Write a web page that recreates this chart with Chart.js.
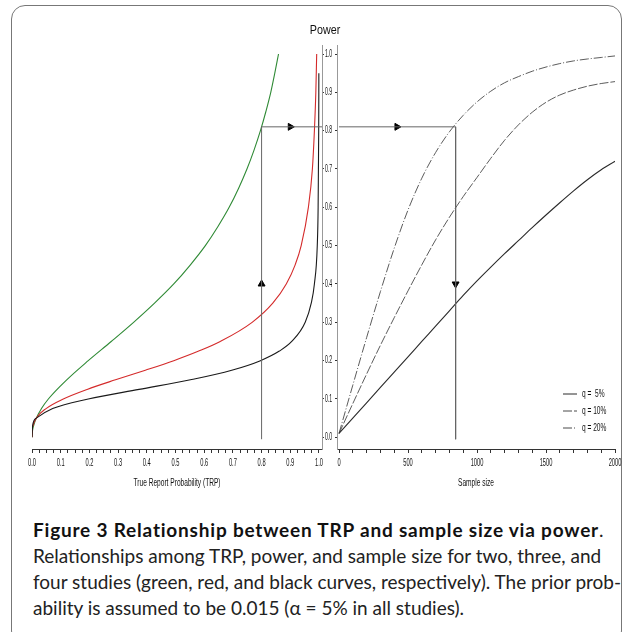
<!DOCTYPE html>
<html><head><meta charset="utf-8">
<script src="https://cdn.jsdelivr.net/npm/chart.js@4.4.1/dist/chart.umd.min.js"></script>
<style>
html,body{margin:0;padding:0;background:#fff;width:634px;height:632px;overflow:hidden;}
#frame{position:absolute;left:11px;top:5px;width:611px;height:640px;border:1px solid #777;border-radius:14px;box-sizing:border-box;}
canvas{position:absolute;left:0;top:0;}
#power{position:absolute;left:295px;width:60px;top:23px;text-align:center;font:12.5px 'Liberation Sans',Arial,sans-serif;color:#111;transform:scaleX(0.86);}
#caption{position:absolute;left:33px;top:517px;font-family:Lato,'Noto Sans',sans-serif;font-size:19px;line-height:26px;color:#222;white-space:nowrap;}
#caption b{font-weight:700;color:#111;letter-spacing:0.8px;}
</style>
</head><body>
<div id="frame"></div>
<canvas id="left" width="634" height="500"></canvas>
<canvas id="right" width="634" height="500"></canvas>
<div id="power">Power</div>
<div id="caption">
<div><b>Figure 3 Relationship between TRP and sample size via power</b>.</div>
<div>Relationships among TRP, power, and sample size for two, three, and</div>
<div>four studies (green, red, and black curves, respectively). The prior prob-</div>
<div>ability is assumed to be 0.015 (α = 5% in all studies).</div>
</div>
<script>
// ---------- data ----------
// Left panel: TRP (x) vs power (y) for two, three and four studies
const greenPower = [0,0.01,0.02,0.03,0.05,0.075,0.1,0.15,0.2,0.25,0.3,0.35,0.4,0.45,0.5,0.55,0.6,0.65,0.7,0.75,0.8,0.85,0.9,0.95,1.0];
const greenTRP   = [0,0.0006,0.0024,0.0055,0.015,0.033,0.057,0.121,0.196,0.276,0.354,0.427,0.494,0.552,0.604,0.648,0.687,0.720,0.749,0.774,0.796,0.815,0.832,0.846,0.859];
const redPower = [0,0.02,0.03,0.05,0.075,0.1,0.125,0.15,0.175,0.2,0.225,0.25,0.3,0.35,0.4,0.45,0.5,0.6,0.7,0.8,0.9,1.0];
const redTRP   = [0,0.001,0.0033,0.015,0.049,0.109,0.192,0.291,0.395,0.494,0.581,0.656,0.767,0.839,0.886,0.917,0.938,0.963,0.977,0.984,0.989,0.992];
const blackPower = [0,0.03,0.05,0.075,0.1,0.125,0.15,0.175,0.2,0.225,0.25,0.3,0.35,0.4,0.5,0.6,0.7,0.8,0.9,0.95];
const blackTRP   = [0,0.002,0.015,0.072,0.196,0.373,0.552,0.696,0.796,0.862,0.905,0.952,0.973,0.984,0.994,0.997,0.998,0.999,0.9994,0.9995];

// Right panel: power vs sample size for q = 5%, 10%, 20%
const sampleSizes = [0,100,200,300,400,500,600,700,800,900,1000,1100,1200,1300,1400,1500,1600,1700,1800,1900,2000];
const powerQ5  = [0.01,0.05,0.09,0.13,0.17,0.21,0.25,0.29,0.33,0.37,0.408,0.444,0.479,0.513,0.547,0.580,0.612,0.643,0.672,0.698,0.72];
const powerQ10 = [0.01,0.088,0.165,0.24,0.312,0.382,0.45,0.515,0.574,0.628,0.678,0.728,0.775,0.815,0.848,0.874,0.893,0.906,0.916,0.923,0.928];
const powerQ20 = [0.01,0.136,0.26,0.38,0.493,0.593,0.676,0.743,0.797,0.84,0.875,0.903,0.925,0.941,0.955,0.966,0.975,0.982,0.987,0.991,0.995];
const seriesLabels = ['q =  5%','q = 10%','q = 20%'];

// Worked example (guide lines and arrows)
const guideTRP = 0.8;
const guidePower = 0.81;
const guideN = 845;
const arrowUpPower = 0.40;
const arrowRightTRP = 0.9;
const arrowRightN = 420;
const arrowDownPower = 0.40;

// Ticks
const trpTicks = [0,0.1,0.2,0.3,0.4,0.5,0.6,0.7,0.8,0.9,1.0];
const trpTickLabels = ['0.0','0.1','0.2','0.3','0.4','0.5','0.6','0.7','0.8','0.9','1.0'];
const trpMinorStep = 0.025;
const powerTicks = [0,0.1,0.2,0.3,0.4,0.5,0.6,0.7,0.8,0.9,1.0];
const powerTickLabels = ['0.0','0.1','0.2','0.3','0.4','0.5','0.6','0.7','0.8','0.9','1.0'];
const nTicks = [0,500,1000,1500,2000];
const nTickLabels = ['0','500','1000','1500','2000'];
const nMinorStep = 100;

// ---------- fonts: narrow look via horizontal text scaling ----------
const FAMILY = "'Liberation Sans', Arial, sans-serif";
const TEXT_SX = 0.6, NUM_SX = 0.52;
function condenseText(canvas){
  const ctx = canvas.getContext('2d');
  const orig = ctx.fillText;
  ctx.fillText = function(text, x, y, maxWidth){
    const sx = /^[0-9.]+$/.test(String(text)) ? NUM_SX : TEXT_SX;
    this.save(); this.translate(x, y); this.scale(sx, 1);
    if (maxWidth === undefined) orig.call(this, text, 0, 0); else orig.call(this, text, 0, 0, maxWidth / sx);
    this.restore();
  };
}
const fnt = (size) => ({family:FAMILY, size});

// ---------- drawing ----------
const W = 634, H = 500;
const AXIS_BOTTOM = 449, AREA_TOP = 45, XAXIS_H = 41;
const Y_MIN = -0.0305, Y_MAX = 1.0235;
const pts = (xs, ys) => xs.map((x,i)=>({x, y: ys[i]}));
const tickRange = (a,b,step) => { const r=[]; const n=Math.round((b-a)/step); for(let i=0;i<=n;i++) r.push(+(a+i*step).toFixed(6)); return r; };
const labelFor = (vals, labels) => (v) => { const i = vals.findIndex(t=>Math.abs(t-v)<1e-9); return i>=0 ? labels[i] : ''; };
const axisColor = '#333';

function curve(data, color, dash, width){
  return {data, showLine:true, borderColor:color, borderWidth:width||1.1, borderDash:dash||[], pointRadius:0, cubicInterpolationMode:'monotone', fill:false};
}
function guide(data){
  return {data, showLine:true, borderColor:'#666', borderWidth:1, pointRadius:0, tension:0};
}
function arrow(pt, rot){
  return {data:[pt], showLine:false, pointStyle:'triangle', rotation:rot, pointRadius:4, backgroundColor:'#000', borderColor:'#000', borderWidth:1};
}

const leftCanvas = document.getElementById('left');
const rightCanvas = document.getElementById('right');
condenseText(leftCanvas);
condenseText(rightCanvas);

// Left chart
const LEFT_RIGHT_EDGE = 322, CENTER_W = 15;
const LX_MAX = 1.0105;
new Chart(leftCanvas, {
  type:'scatter',
  data:{datasets:[
    guide([{x:guideTRP,y:-0.005},{x:guideTRP,y:guidePower},{x:LX_MAX,y:guidePower}]),
    arrow({x:guideTRP,y:arrowUpPower},0),
    arrow({x:arrowRightTRP,y:guidePower},90),
    curve(pts(blackTRP,blackPower),'#1a1a1a'),
    curve(pts(redTRP,redPower),'#d42a2a'),
    curve(pts(greenTRP,greenPower),'#2f8a35'),
  ]},
  options:{
    responsive:false, animation:false, devicePixelRatio:1,
    layout:{padding:{left:32, top:AREA_TOP, right:W-LEFT_RIGHT_EDGE-CENTER_W, bottom:H-AXIS_BOTTOM-XAXIS_H}},
    plugins:{legend:{display:false}, tooltip:{enabled:false}},
    scales:{
      x:{type:'linear', min:0, max:LX_MAX,
        afterBuildTicks:s=>{ s.ticks = tickRange(0,1,trpMinorStep).map(v=>({value:v})); },
        afterFit:s=>{ s.height = XAXIS_H; },
        grid:{drawOnChartArea:false, drawTicks:true, tickLength:4, color:axisColor},
        border:{display:true, color:axisColor},
        ticks:{autoSkip:false, maxRotation:0, padding:3, font:fnt(11), color:'#111', callback:labelFor(trpTicks,trpTickLabels)},
        title:{display:true, text:'True Report Probability (TRP)', font:fnt(11), color:'#111', padding:{top:0,bottom:0}}
      },
      y:{type:'linear', position:'right', min:Y_MIN, max:Y_MAX,
        afterBuildTicks:s=>{ s.ticks = powerTicks.map(v=>({value:v})); },
        afterFit:s=>{ s.width = CENTER_W; },
        grid:{drawOnChartArea:false, drawTicks:true, tickLength:2, color:axisColor},
        border:{display:true, color:'#999'},
        ticks:{autoSkip:false, padding:1, font:fnt(10), color:'#111', callback:labelFor(powerTicks,powerTickLabels)}
      }
    }
  }
});

// Right chart
const RIGHT_LEFT_EDGE = LEFT_RIGHT_EDGE + CENTER_W; // 337
const RX_MIN = -14.5, RX_MAX = 2000;
const legendPlugin = {
  id:'qLegend',
  afterDatasetsDraw(chart){
    const ctx = chart.ctx, a = chart.chartArea;
    chart.data.datasets.filter(d=>d.legendText).forEach((d,i)=>{
      const y = a.bottom - 55 + i*17;
      ctx.save();
      ctx.strokeStyle = d.borderColor; ctx.lineWidth = 1; ctx.setLineDash(d.borderDash||[]);
      ctx.beginPath(); ctx.moveTo(a.right-52, y); ctx.lineTo(a.right-38, y); ctx.stroke();
      ctx.setLineDash([]);
      ctx.fillStyle = '#111'; ctx.font = '11px ' + FAMILY; ctx.textBaseline = 'middle'; ctx.textAlign = 'left';
      ctx.fillText(d.legendText, a.right-33, y);
      ctx.restore();
    });
  }
};
const q5 = curve(pts(sampleSizes,powerQ5),'#2a2a2a'); q5.legendText = seriesLabels[0];
const q10 = curve(pts(sampleSizes,powerQ10),'#4a4a4a',[9,2],0.9); q10.legendText = seriesLabels[1];
const q20 = curve(pts(sampleSizes,powerQ20),'#4a4a4a',[9,2,1,2],0.9); q20.legendText = seriesLabels[2];
new Chart(rightCanvas, {
  type:'scatter',
  data:{datasets:[
    guide([{x:0,y:guidePower},{x:guideN,y:guidePower},{x:guideN,y:-0.005}]),
    arrow({x:arrowRightN,y:guidePower},90),
    arrow({x:guideN,y:arrowDownPower},180),
    q5, q10, q20
  ]},
  plugins:[legendPlugin],
  options:{
    responsive:false, animation:false, devicePixelRatio:1,
    layout:{padding:{left:RIGHT_LEFT_EDGE-2, top:AREA_TOP, right:W-615, bottom:H-AXIS_BOTTOM-XAXIS_H}},
    plugins:{legend:{display:false}, tooltip:{enabled:false}},
    scales:{
      x:{type:'linear', min:RX_MIN, max:RX_MAX,
        afterBuildTicks:s=>{ s.ticks = tickRange(0,2000,nMinorStep).map(v=>({value:v})); },
        afterFit:s=>{ s.height = XAXIS_H; },
        grid:{drawOnChartArea:false, drawTicks:true, tickLength:4, color:axisColor},
        border:{display:true, color:axisColor},
        ticks:{autoSkip:false, maxRotation:0, padding:3, font:fnt(11), color:'#111', callback:labelFor(nTicks,nTickLabels)},
        title:{display:true, text:'Sample size', font:fnt(11), color:'#111', padding:{top:0,bottom:0}}
      },
      y:{type:'linear', position:'left', min:Y_MIN, max:Y_MAX,
        afterBuildTicks:s=>{ s.ticks = powerTicks.map(v=>({value:v})); },
        afterFit:s=>{ s.width = 2; },
        grid:{drawOnChartArea:false, drawTicks:true, tickLength:2, color:axisColor},
        border:{display:true, color:'#999'},
        ticks:{display:false}
      }
    }
  }
});
</script>
</body></html>
